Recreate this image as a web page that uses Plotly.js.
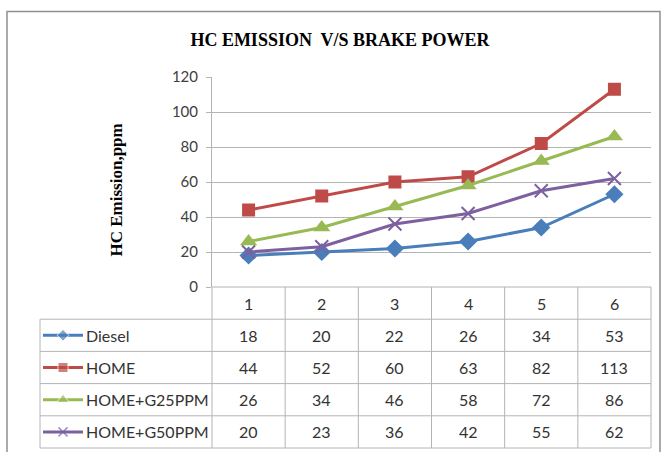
<!DOCTYPE html>
<html>
<head>
<meta charset="utf-8">
<script src="https://cdn.plot.ly/plotly-3.0.1.min.js"></script>
<style>html,body{margin:0;padding:0;background:#fff;}#chart{width:664px;height:452px;}</style>
</head>
<body>
<div id="chart"></div>
<script>
// ---- data ----
const categories = [1, 2, 3, 4, 5, 6];
const diesel = [18, 20, 22, 26, 34, 53];
const home = [44, 52, 60, 63, 82, 113];
const homeG25 = [26, 34, 46, 58, 72, 86];
const homeG50 = [20, 23, 36, 42, 55, 62];
const seriesNames = ['Diesel', 'HOME', 'HOME+G25PPM', 'HOME+G50PPM'];
const yTicks = [0, 20, 40, 60, 80, 100, 120];

// ---- styles ----
const W = 664, H = 452;
const seriesValues = [diesel, home, homeG25, homeG50];
const colors = ['#4A7EBB', '#BE4B48', '#98B954', '#7D60A0'];
const symbols = ['diamond', 'square', 'triangle-up', 'x-thin-open'];
const msize = [14, 13, 15, 13];
const lsize = [9, 10, 11, 9];
const tickFont = {family: 'Lato, "Liberation Sans", sans-serif', size: 15, color: '#404040'};
const tableFont = {family: 'Lato, "Liberation Sans", sans-serif', size: 16, color: '#333333'};
const gridCol = '#b4b4b4';

// pixel geometry
const plotL = 212, plotR = 651, plotT = 77, plotB = 287;
const pxPerCat = (plotR - plotL) / categories.length;
const rowH = 32.2;
const x3L = -1.95, x3R = 6.6;
const x3Lpx = plotL - (0.5 - x3L) * pxPerCat;
const x3Rpx = plotL + (x3R - 0.5) * pxPerCat;
const y3Top = -0.6;
const y3TopPx = plotB + (y3Top + 0.5) * rowH;
const y3Bottom = -0.5 + (H - plotB) / rowH;
const toX3 = px => 0.5 - (plotL - px) / pxPerCat;
const tableLeft = toX3(40);

const traces = [];
seriesValues.forEach((vals, i) => {
  const mk = {symbol: symbols[i], size: msize[i], color: colors[i]};
  if (symbols[i] === 'x-thin-open') mk.line = {color: colors[i], width: 2};
  traces.push({
    type: 'scatter', mode: 'lines+markers', x: categories, y: vals,
    name: seriesNames[i], line: {color: colors[i], width: 3}, marker: mk,
    xaxis: 'x', yaxis: 'y', hoverinfo: 'x+y+name'
  });
  // legend key inside the data table
  const km = {symbol: symbols[i], size: [0, lsize[i], 0], color: colors[i]};
  if (symbols[i] === 'x-thin-open') km.line = {color: colors[i], width: 1.5};
  traces.push({
    type: 'scatter', mode: 'lines+markers',
    x: [toX3(43), toX3(63), toX3(83)], y: [i + 1, i + 1, i + 1],
    line: {color: colors[i], width: 3}, marker: km,
    xaxis: 'x3', yaxis: 'y3', hoverinfo: 'skip', showlegend: false
  });
});

const shapes = [];
const tl = {color: gridCol, width: 1};
// outer chart border
shapes.push({type: 'rect', xref: 'paper', yref: 'paper', x0: 7 / W, x1: 660 / W, y0: -0.05, y1: 1 - 11.5 / H,
  line: {color: '#909090', width: 1.5}, fillcolor: 'rgba(0,0,0,0)'});
// table horizontal lines
shapes.push({type: 'line', xref: 'x3', yref: 'y3', x0: 0.5, x1: 6.5, y0: -0.5, y1: -0.5, line: tl});
for (let r = 0; r <= seriesNames.length; r++) {
  shapes.push({type: 'line', xref: 'x3', yref: 'y3', x0: tableLeft, x1: 6.5, y0: r + 0.5, y1: r + 0.5, line: tl});
}
// table vertical lines
for (let c = 0; c <= categories.length; c++) {
  shapes.push({type: 'line', xref: 'x3', yref: 'y3', x0: c + 0.5, x1: c + 0.5, y0: -0.5, y1: seriesNames.length + 0.5, line: tl});
}
shapes.push({type: 'line', xref: 'x3', yref: 'y3', x0: tableLeft, x1: tableLeft, y0: 0.5, y1: seriesNames.length + 0.5, line: tl});

const annotations = [];
categories.forEach(c => {
  annotations.push({xref: 'x3', yref: 'y3', x: c, y: 0, text: String(c), showarrow: false, font: tableFont});
});
seriesValues.forEach((vals, i) => {
  vals.forEach((v, j) => {
    annotations.push({xref: 'x3', yref: 'y3', x: categories[j], y: i + 1, text: String(v), showarrow: false, font: tableFont});
  });
  annotations.push({xref: 'x3', yref: 'y3', x: toX3(84), y: i + 1, text: seriesNames[i], showarrow: false,
    xanchor: 'left', font: tableFont});
});
// y axis title
annotations.push({xref: 'paper', yref: 'paper', x: 104 / W, y: 1 - 190 / H, text: '<b>HC Emission,ppm</b>',
  textangle: -90, showarrow: false,
  font: {family: '"Liberation Serif", "Times New Roman", serif', size: 17, color: '#000'}});

const layout = {
  width: W, height: H,
  margin: {l: 0, r: 0, t: 0, b: 0},
  paper_bgcolor: '#fff', plot_bgcolor: 'rgba(0,0,0,0)',
  showlegend: false,
  title: {text: '<b>HC EMISSION  V/S BRAKE POWER</b>', x: 340 / W, xanchor: 'center', y: 1 - 40 / H, yanchor: 'middle',
    xref: 'paper', yref: 'paper',
    font: {family: '"Liberation Serif", "Times New Roman", serif', size: 18, color: '#000'}},
  xaxis: {domain: [plotL / W, plotR / W], range: [0.5, 6.5], showticklabels: false, showgrid: false,
    zeroline: false, showline: false, ticks: '', fixedrange: true},
  yaxis: {domain: [(H - plotB) / H, (H - plotT) / H], range: [0, 120], tickvals: yTicks, ticktext: yTicks.map(String),
    showgrid: true, gridcolor: gridCol, gridwidth: 1, zeroline: false, showline: true, linecolor: gridCol,
    ticks: 'outside', ticklen: 5, tickcolor: gridCol, tickfont: tickFont, ticklabelstandoff: 5, fixedrange: true},
  xaxis3: {domain: [x3Lpx / W, x3Rpx / W], range: [x3L, x3R], anchor: 'y3', visible: false, fixedrange: true},
  yaxis3: {domain: [0, (H - y3TopPx) / H], range: [y3Bottom, y3Top], anchor: 'x3', visible: false, fixedrange: true},
  shapes: shapes,
  annotations: annotations
};

Plotly.newPlot('chart', traces, layout, {displayModeBar: false, staticPlot: true});
</script>
</body>
</html>
